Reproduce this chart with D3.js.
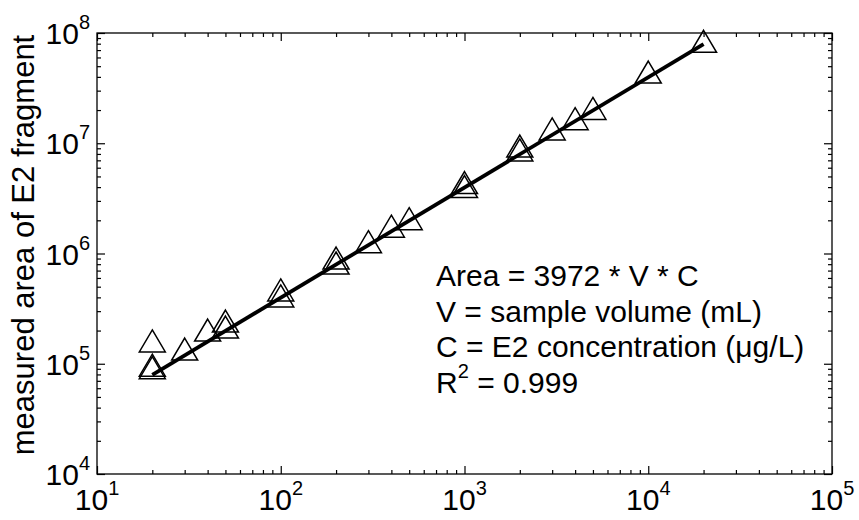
<!DOCTYPE html>
<html>
<head>
<meta charset="utf-8">
<script src="https://cdn.jsdelivr.net/npm/d3@7"></script>
<style>
  html, body { margin: 0; padding: 0; background: #fff; }
  svg { display: block; font-family: "Liberation Sans", Arial, Helvetica, sans-serif; }
</style>
</head>
<body>
<svg id="chart" width="859" height="520"></svg>
<script>
// ---- data ----
const sampleX = [20, 20, 20, 30, 40, 50, 50, 100, 100, 200, 200, 300, 400, 500, 1000, 1000, 2000, 2000, 3000, 4000, 5000, 10000, 20000];
const measuredArea = [1.61e5, 9.7e4, 9.2e4, 1.36e5, 2.02e5, 2.44e5, 2.15e5, 4.67e5, 4.12e5, 9.1e5, 8.2e5, 1.28e6, 1.77e6, 2.07e6, 4.4e6, 4.05e6, 9.44e6, 8.7e6, 1.35e7, 1.67e7, 2.07e7, 4.42e7, 8.4e7];
const fitX = [20, 20000];
const fitY = [79440, 79440000];
const xTickValues = [1e1, 1e2, 1e3, 1e4, 1e5];
const xTickExponents = ["1", "2", "3", "4", "5"];
const yTickValues = [1e4, 1e5, 1e6, 1e7, 1e8];
const yTickExponents = ["4", "5", "6", "7", "8"];
const yAxisTitle = "measured area of E2 fragment";
const annotationLines = ["Area = 3972 * V * C", "V = sample volume (mL)", "C = E2 concentration (\u03BCg/L)"];

// ---- layout ----
const W = 859, H = 520;
const L = 97, R = 832, T = 33, B = 474;
const svg = d3.select("#chart");
svg.append("rect").attr("width", W).attr("height", H).attr("fill", "#fff");

const x = d3.scaleLog().domain([1e1, 1e5]).range([L, R]);
const y = d3.scaleLog().domain([1e4, 1e8]).range([B, T]);

function minors(lo, hi) {
  const out = [];
  for (let d = lo; d < hi; d *= 10) for (let k = 2; k <= 9; k++) out.push(d * k);
  return out;
}
const xMinor = minors(1e1, 1e5);
const yMinor = minors(1e4, 1e8);

function styleAxis(g) {
  g.select(".domain").remove();
  g.selectAll(".tick line").attr("stroke", "#000").attr("stroke-width", 1.2);
  g.selectAll(".tick text").remove();
}
const MAJ = 8, MIN = 4;
svg.append("g").attr("transform", `translate(0,${B})`).call(d3.axisBottom(x).tickValues(xTickValues).tickSize(-MAJ).tickFormat("")).call(styleAxis);
svg.append("g").attr("transform", `translate(0,${B})`).call(d3.axisBottom(x).tickValues(xMinor).tickSize(-MIN).tickFormat("")).call(styleAxis);
svg.append("g").attr("transform", `translate(0,${T})`).call(d3.axisTop(x).tickValues(xTickValues).tickSize(-MAJ).tickFormat("")).call(styleAxis);
svg.append("g").attr("transform", `translate(0,${T})`).call(d3.axisTop(x).tickValues(xMinor).tickSize(-MIN).tickFormat("")).call(styleAxis);
svg.append("g").attr("transform", `translate(${L},0)`).call(d3.axisLeft(y).tickValues(yTickValues).tickSize(-MAJ).tickFormat("")).call(styleAxis);
svg.append("g").attr("transform", `translate(${L},0)`).call(d3.axisLeft(y).tickValues(yMinor).tickSize(-MIN).tickFormat("")).call(styleAxis);
svg.append("g").attr("transform", `translate(${R},0)`).call(d3.axisRight(y).tickValues(yTickValues).tickSize(-MAJ).tickFormat("")).call(styleAxis);
svg.append("g").attr("transform", `translate(${R},0)`).call(d3.axisRight(y).tickValues(yMinor).tickSize(-MIN).tickFormat("")).call(styleAxis);

// frame
svg.append("rect").attr("x", L).attr("y", T).attr("width", R - L).attr("height", B - T)
  .attr("fill", "none").attr("stroke", "#000").attr("stroke-width", 1.3);

// tick labels
const FS = 30, SUP = 20, SUPDY = 15;
const xl = svg.append("g").selectAll("text").data(xTickValues).join("text")
  .attr("x", d => x(d)).attr("y", 510).attr("text-anchor", "middle")
  .attr("font-size", FS).attr("fill", "#000");
xl.append("tspan").text("10");
xl.append("tspan").attr("font-size", SUP).attr("dy", -SUPDY).text((d, i) => xTickExponents[i]);

const yl = svg.append("g").selectAll("text").data(yTickValues).join("text")
  .attr("x", 90).attr("y", d => y(d) + 11).attr("text-anchor", "end")
  .attr("font-size", FS).attr("fill", "#000");
yl.append("tspan").text("10");
yl.append("tspan").attr("font-size", SUP).attr("dy", -SUPDY).text((d, i) => yTickExponents[i]);

// y axis title
svg.append("text").attr("transform", `translate(34,245) rotate(-90)`)
  .attr("text-anchor", "middle").attr("font-size", 31).attr("fill", "#000").text(yAxisTitle);

// fit line
const line = d3.line().x(d => x(d[0])).y(d => y(d[1]));
svg.append("path").datum(d3.zip(fitX, fitY)).attr("d", line)
  .attr("fill", "none").attr("stroke", "#000").attr("stroke-width", 3.8);

// triangle markers
const tw = 13, th = 11;
svg.append("g").selectAll("path").data(d3.zip(sampleX, measuredArea)).join("path")
  .attr("d", d => {
    const cx = x(d[0]), cy = y(d[1]);
    return `M${cx},${cy - th}L${cx + tw},${cy + th}L${cx - tw},${cy + th}Z`;
  })
  .attr("fill", "none").attr("stroke", "#000").attr("stroke-width", 1.5).attr("stroke-linejoin", "miter");

// annotation
const ann = svg.append("g").attr("font-size", 30).attr("fill", "#000");
annotationLines.forEach((t, i) => {
  ann.append("text").attr("x", 436).attr("y", 286 + i * 35.5).text(t);
});
const r2 = ann.append("text").attr("x", 436).attr("y", 286 + 3 * 35.5);
r2.append("tspan").text("R");
r2.append("tspan").attr("font-size", SUP).attr("dy", -SUPDY).text("2");
r2.append("tspan").attr("dy", SUPDY).text(" = 0.999");
</script>
</body>
</html>
